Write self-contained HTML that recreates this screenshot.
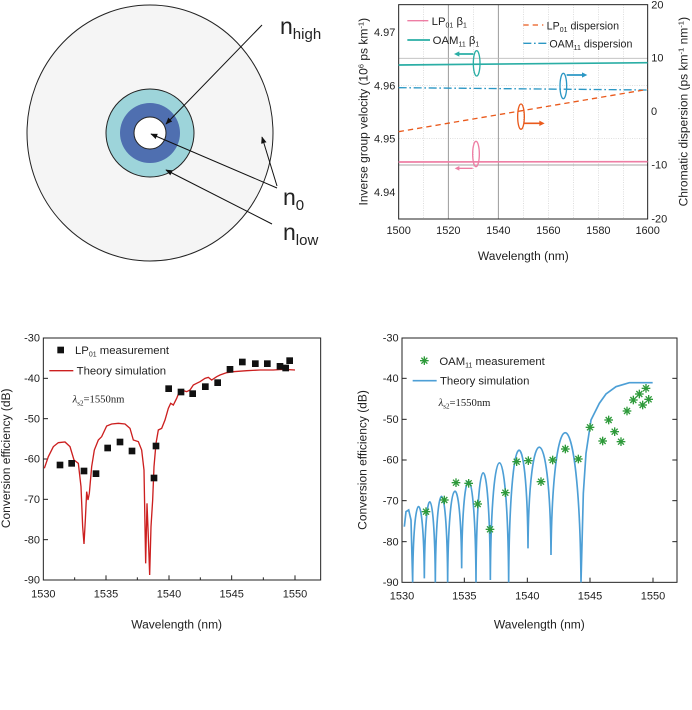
<!DOCTYPE html>
<html><head><meta charset="utf-8"><style>
html,body{margin:0;padding:0;background:#fff;}
svg{display:block;font-family:"Liberation Sans",sans-serif;}
</style></head><body>
<svg width="692" height="710" viewBox="0 0 692 710" xmlns="http://www.w3.org/2000/svg">
<defs>
<marker id="ah" viewBox="0 0 10 10" refX="9" refY="5" markerWidth="7" markerHeight="7" orient="auto"><path d="M0,1 L10,5 L0,9 z" fill="#111"/></marker>
<g id="ast" stroke="#2e9a3a" stroke-width="4"><line x1="-13" y1="0" x2="13" y2="0"/><line x1="0" y1="-13" x2="0" y2="13"/><line x1="-9" y1="-9" x2="9" y2="9"/><line x1="-9" y1="9" x2="9" y2="-9"/></g>
</defs>

<ellipse cx="150" cy="133" rx="123" ry="128" fill="#f5f5f5" stroke="#222" stroke-width="1"/>
<circle cx="150" cy="133" r="44" fill="#9dd4da" stroke="#222" stroke-width="1"/>
<circle cx="150" cy="133" r="30" fill="#4f6fb0"/>
<circle cx="150" cy="133" r="16" fill="#fff" stroke="#222" stroke-width="1"/>
<line x1="262" y1="25" x2="166" y2="124" stroke="#111" stroke-width="1" marker-end="url(#ah)"/>
<line x1="277" y1="188" x2="151" y2="134" stroke="#111" stroke-width="1" marker-end="url(#ah)"/>
<line x1="277" y1="186" x2="262" y2="137" stroke="#111" stroke-width="1" marker-end="url(#ah)"/>
<line x1="272" y1="224" x2="166" y2="170" stroke="#111" stroke-width="1" marker-end="url(#ah)"/>
<text x="280" y="34" font-size="23" fill="#222">n<tspan font-size="15" dy="5">high</tspan></text>
<text x="283" y="205" font-size="23" fill="#222">n<tspan font-size="15" dy="5">0</tspan></text>
<text x="283" y="240" font-size="23" fill="#222">n<tspan font-size="15" dy="5">low</tspan></text>

<g transform="translate(350,0) scale(0.33333)">
<g stroke="#ccc" stroke-width="2" stroke-dasharray="3,4">
<line x1="370" y1="14" x2="370" y2="657"/><line x1="146" y1="256" x2="893" y2="256"/><line x1="146" y1="415" x2="893" y2="415"/>
<line x1="220" y1="14" x2="220" y2="657"/><line x1="520" y1="14" x2="520" y2="657"/><line x1="595" y1="14" x2="595" y2="657"/><line x1="670" y1="14" x2="670" y2="657"/><line x1="745" y1="14" x2="745" y2="657"/><line x1="820" y1="14" x2="820" y2="657"/>
</g>
<g stroke="#888" stroke-width="2.5">
<line x1="295" y1="14" x2="295" y2="657"/><line x1="445" y1="14" x2="445" y2="657"/><line x1="146" y1="495" x2="893" y2="495"/><line x1="146" y1="175" x2="893" y2="175" stroke="#bbb"/>
</g>
<rect x="146" y="14" width="747" height="643" fill="none" stroke="#222" stroke-width="3"/>
<line x1="146" y1="195" x2="893" y2="188" stroke="#2aaea5" stroke-width="5"/>
<line x1="146" y1="263" x2="893" y2="270" stroke="#2b97c4" stroke-width="4" stroke-dasharray="24,8,5,8"/>
<line x1="146" y1="395" x2="893" y2="268" stroke="#ea5a1c" stroke-width="4" stroke-dasharray="16,12"/>
<line x1="146" y1="486" x2="893" y2="485" stroke="#ee7ea4" stroke-width="5"/>
<ellipse cx="380" cy="190" rx="10" ry="38" fill="none" stroke="#2aaea5" stroke-width="4"/>
<line x1="370" y1="162" x2="322" y2="162" stroke="#2aaea5" stroke-width="5"/><path d="M312,162 L328,154 L328,170z" fill="#2aaea5"/>
<ellipse cx="640" cy="258" rx="10" ry="38" fill="none" stroke="#2b97c4" stroke-width="4"/>
<line x1="650" y1="225" x2="700" y2="225" stroke="#2b97c4" stroke-width="5"/><path d="M712,225 L696,217 L696,233z" fill="#2b97c4"/>
<ellipse cx="513" cy="350" rx="10" ry="38" fill="none" stroke="#ea5a1c" stroke-width="4"/>
<line x1="523" y1="370" x2="572" y2="370" stroke="#ea5a1c" stroke-width="5"/><path d="M584,370 L568,362 L568,378z" fill="#ea5a1c"/>
<ellipse cx="378" cy="462" rx="10" ry="38" fill="none" stroke="#ee7ea4" stroke-width="4"/>
<line x1="368" y1="505" x2="325" y2="505" stroke="#ee7ea4" stroke-width="4"/><path d="M314,505 L328,498 L328,512z" fill="#ee7ea4"/>
<line x1="172" y1="62" x2="235" y2="62" stroke="#ee7ea4" stroke-width="4"/>
<text x="245" y="75" font-size="34" fill="#222">LP<tspan font-size="21" dy="8">01</tspan><tspan dy="-8"> β</tspan><tspan font-size="21" dy="8">1</tspan></text>
<line x1="172" y1="120" x2="240" y2="120" stroke="#2aaea5" stroke-width="5"/>
<text x="248" y="132" font-size="34" fill="#222">OAM<tspan font-size="21" dy="8">11</tspan><tspan dy="-8"> β</tspan><tspan font-size="21" dy="8">1</tspan></text>
<line x1="520" y1="75" x2="580" y2="75" stroke="#ea5a1c" stroke-width="4" stroke-dasharray="16,12"/>
<text x="590" y="88" font-size="32" fill="#222">LP<tspan font-size="21" dy="8">01</tspan><tspan dy="-8"> dispersion</tspan></text>
<line x1="520" y1="130" x2="590" y2="130" stroke="#2b97c4" stroke-width="4" stroke-dasharray="24,8,5,8"/>
<text x="598" y="142" font-size="32" fill="#222">OAM<tspan font-size="21" dy="8">11</tspan><tspan dy="-8"> dispersion</tspan></text>
<g font-size="33" fill="#222" text-anchor="end">
<text x="136" y="108">4.97</text><text x="136" y="268">4.96</text><text x="136" y="428">4.95</text><text x="136" y="588">4.94</text>
</g>
<g font-size="33" fill="#222" text-anchor="middle">
<text x="922" y="25">20</text><text x="922" y="185">10</text><text x="912" y="345">0</text><text x="928" y="505">-10</text><text x="928" y="667">-20</text>
<text x="146" y="702">1500</text><text x="295" y="702">1520</text><text x="445" y="702">1540</text><text x="595" y="702">1560</text><text x="745" y="702">1580</text><text x="893" y="702">1600</text>
<text x="520" y="780" font-size="36">Wavelength (nm)</text>
</g>
<text transform="translate(52,335) rotate(-90)" font-size="36" fill="#222" text-anchor="middle">Inverse group velocity (10<tspan font-size="23" dy="-12">6</tspan><tspan dy="12"> ps km</tspan><tspan font-size="23" dy="-12">-1</tspan><tspan dy="12">)</tspan></text>
<text transform="translate(1012,335) rotate(-90)" font-size="36" fill="#222" text-anchor="middle">Chromatic dispersion (ps km<tspan font-size="23" dy="-12">-1</tspan><tspan dy="12"> nm</tspan><tspan font-size="23" dy="-12">-1</tspan><tspan dy="12">)</tspan></text>
</g>

<g transform="translate(0,320) scale(0.33333)">
<rect x="130" y="54" width="832" height="726" fill="none" stroke="#222" stroke-width="3"/>
<g stroke="#222" stroke-width="3">
<line x1="318" y1="780" x2="318" y2="766"/><line x1="507" y1="780" x2="507" y2="766"/><line x1="695" y1="780" x2="695" y2="766"/><line x1="885" y1="780" x2="885" y2="766"/>
<line x1="224" y1="780" x2="224" y2="772"/><line x1="412" y1="780" x2="412" y2="772"/><line x1="601" y1="780" x2="601" y2="772"/><line x1="790" y1="780" x2="790" y2="772"/>
<line x1="130" y1="175" x2="144" y2="175"/><line x1="130" y1="296" x2="144" y2="296"/><line x1="130" y1="417" x2="144" y2="417"/><line x1="130" y1="538" x2="144" y2="538"/><line x1="130" y1="659" x2="144" y2="659"/>
</g>
<polyline fill="none" stroke="#cc1f1f" stroke-width="4" points="133,445 145,410 160,380 175,368 195,366 210,380 222,420 235,430 243,500 248,620 252,672 256,600 260,515 264,540 268,520 275,440 283,390 295,360 305,350 320,318 335,312 355,310 375,312 390,325 400,360 415,365 425,390 432,450 437,730 441,550 445,650 449,765 453,620 458,540 462,440 468,370 475,330 485,325 495,300 505,265 512,250 520,255 530,235 540,210 550,212 560,215 570,210 580,195 590,190 600,185 615,175 625,172 635,180 650,170 660,165 680,158 700,155 740,152 780,150 820,150 850,148 885,150"/>
<g fill="#111">
<rect x="170" y="425" width="20" height="20"/><rect x="205" y="420" width="20" height="20"/><rect x="242" y="443" width="20" height="20"/><rect x="278" y="451" width="20" height="20"/><rect x="313" y="374" width="20" height="20"/><rect x="350" y="356" width="20" height="20"/><rect x="386" y="383" width="20" height="20"/><rect x="452" y="464" width="20" height="20"/><rect x="458" y="368" width="20" height="20"/><rect x="496" y="196" width="20" height="20"/><rect x="533" y="206" width="20" height="20"/><rect x="568" y="211" width="20" height="20"/><rect x="606" y="190" width="20" height="20"/><rect x="643" y="178" width="20" height="20"/><rect x="680" y="138" width="20" height="20"/><rect x="717" y="116" width="20" height="20"/><rect x="756" y="121" width="20" height="20"/><rect x="792" y="121" width="20" height="20"/><rect x="830" y="129" width="20" height="20"/><rect x="847" y="134" width="20" height="20"/><rect x="859" y="112" width="20" height="20"/>
<rect x="172" y="80" width="20" height="20"/>
</g>
<text x="225" y="102" font-size="34" fill="#222">LP<tspan font-size="21" dy="8">01</tspan><tspan dy="-8"> measurement</tspan></text>
<line x1="148" y1="152" x2="220" y2="152" stroke="#cc1f1f" stroke-width="4"/>
<text x="230" y="163" font-size="34" fill="#222">Theory simulation</text>
<text x="218" y="248" font-size="32" fill="#222" font-family="Liberation Serif,serif"><tspan font-style="italic">λ</tspan><tspan font-size="21" dy="8">s2</tspan><tspan dy="-8">=1550nm</tspan></text>
<g font-size="33" fill="#222" text-anchor="end">
<text x="120" y="65">-30</text><text x="120" y="186">-40</text><text x="120" y="307">-50</text><text x="120" y="428">-60</text><text x="120" y="549">-70</text><text x="120" y="670">-80</text><text x="120" y="791">-90</text>
</g>
<g font-size="33" fill="#222" text-anchor="middle">
<text x="130" y="832">1530</text><text x="318" y="832">1535</text><text x="507" y="832">1540</text><text x="695" y="832">1545</text><text x="885" y="832">1550</text>
<text x="530" y="925" font-size="36">Wavelength (nm)</text>
</g>
<text transform="translate(30,415) rotate(-90)" font-size="36" fill="#222" text-anchor="middle">Conversion efficiency (dB)</text>
</g>

<g transform="translate(346,320) scale(0.33333)">
<rect x="168" y="54" width="825" height="733" fill="none" stroke="#222" stroke-width="3"/>
<g stroke="#222" stroke-width="3">
<line x1="355" y1="787" x2="355" y2="773"/><line x1="544" y1="787" x2="544" y2="773"/><line x1="732" y1="787" x2="732" y2="773"/><line x1="921" y1="787" x2="921" y2="773"/>
<line x1="168" y1="175" x2="182" y2="175"/><line x1="168" y1="298" x2="182" y2="298"/><line x1="168" y1="420" x2="182" y2="420"/><line x1="168" y1="542" x2="182" y2="542"/><line x1="168" y1="665" x2="182" y2="665"/>
<line x1="993" y1="175" x2="979" y2="175"/><line x1="993" y1="298" x2="979" y2="298"/><line x1="993" y1="420" x2="979" y2="420"/><line x1="993" y1="542" x2="979" y2="542"/><line x1="993" y1="665" x2="979" y2="665"/>
</g>
<path fill="none" stroke="#4d9fd6" stroke-width="5" d="M175,620 L180,575 L188,570 L195,600 L200,787
C202,486 233,486 235,775
C237,467 266,467 268,787
C270,443 303,443 305,787
C307,430 345,430 347,745
C349,390 388,390 390,787
C392,350 431,350 433,780
C436,310 485,310 488,787
C491,277 543,277 546,685
C549,277 612,277 615,705
C620,203 700,203 705,787
L712,520 L720,400 L735,300 L760,250 L780,222 L810,200 L850,188 L920,188"/>
<g>
<use href="#ast" x="240" y="575"/><use href="#ast" x="295" y="540"/><use href="#ast" x="330" y="488"/><use href="#ast" x="368" y="490"/><use href="#ast" x="395" y="552"/><use href="#ast" x="432" y="628"/><use href="#ast" x="478" y="518"/><use href="#ast" x="512" y="425"/><use href="#ast" x="547" y="422"/><use href="#ast" x="585" y="485"/><use href="#ast" x="620" y="420"/><use href="#ast" x="658" y="387"/><use href="#ast" x="697" y="417"/><use href="#ast" x="732" y="322"/><use href="#ast" x="770" y="363"/><use href="#ast" x="788" y="300"/><use href="#ast" x="806" y="335"/><use href="#ast" x="825" y="365"/><use href="#ast" x="843" y="273"/><use href="#ast" x="862" y="240"/><use href="#ast" x="880" y="222"/><use href="#ast" x="890" y="255"/><use href="#ast" x="900" y="205"/><use href="#ast" x="908" y="238"/>
<use href="#ast" x="235" y="122"/>
</g>
<text x="280" y="135" font-size="34" fill="#222">OAM<tspan font-size="21" dy="8">11</tspan><tspan dy="-8"> measurement</tspan></text>
<line x1="200" y1="182" x2="272" y2="182" stroke="#4d9fd6" stroke-width="5"/>
<text x="282" y="194" font-size="34" fill="#222">Theory simulation</text>
<text x="278" y="258" font-size="32" fill="#222" font-family="Liberation Serif,serif"><tspan font-style="italic">λ</tspan><tspan font-size="21" dy="8">s2</tspan><tspan dy="-8">=1550nm</tspan></text>
<g font-size="33" fill="#222" text-anchor="end">
<text x="158" y="65">-30</text><text x="158" y="186">-40</text><text x="158" y="309">-50</text><text x="158" y="431">-60</text><text x="158" y="553">-70</text><text x="158" y="676">-80</text><text x="158" y="798">-90</text>
</g>
<g font-size="33" fill="#222" text-anchor="middle">
<text x="168" y="839">1530</text><text x="355" y="839">1535</text><text x="544" y="839">1540</text><text x="732" y="839">1545</text><text x="921" y="839">1550</text>
<text x="580" y="925" font-size="36">Wavelength (nm)</text>
</g>
<text transform="translate(62,420) rotate(-90)" font-size="36" fill="#222" text-anchor="middle">Conversion efficiency (dB)</text>
</g>
</svg>
</body></html>
